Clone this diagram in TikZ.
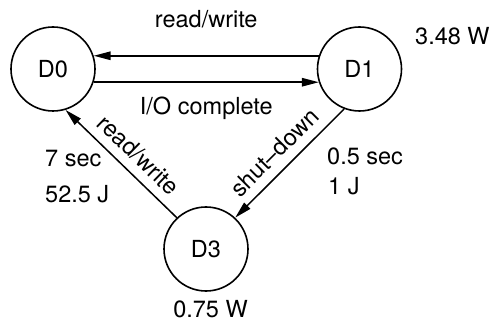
\documentclass[tikz,border=0pt]{standalone}
\usepackage{fontspec}
\setmainfont{TeX Gyre Heros}
\usetikzlibrary{arrows.meta}

\begin{document}
\begin{tikzpicture}[x=1pt, y=1pt,
    every node/.append style={font=\fontsize{23.5}{28}\selectfont},
    disk/.style={draw, circle, line width=1.6pt, minimum size=84pt, inner sep=0pt},
    trans/.style={line width=1.5pt, -{Triangle[length=17pt, width=8.5pt]}},
    lbl/.style={inner sep=0pt}]
    \useasboundingbox (0,0) rectangle (490,324);
    \node[disk] (d0) at (53,255) {D0};
    \node[disk] (d1) at (359.5,255) {D1};
    \node[disk] (d3) at (206,75) {D3};
    % transitions
    \draw[trans] (d1.162) -- node[lbl, above=27pt] {read/write} (d0.18);
    \draw[trans] (d0.-18) -- node[lbl, below=14pt] {I/O complete} (d1.198);
    \draw[trans] (d3.133) -- node[lbl, sloped, above=9pt, pos=.46] {read/write} (d0.-73);
    \draw[trans] (d1.249) -- node[lbl, sloped, above=9pt, pos=.52] {shut--down} (d3.47);
    % power and cost figures
    \node[lbl, anchor=base west] (p1) at (415,279) {3.48 W};
    \node[lbl, anchor=base] (p3) at (210.5,6) {0.75 W};
    \node[lbl, anchor=base west] (t30) at (45,157) {7 sec};
    \node[lbl, anchor=base west] (e30) at (45,121) {52.5 J};
    \node[lbl, anchor=base west] (t13) at (327,159) {0.5 sec};
    \node[lbl, anchor=base west] (e13) at (328,129) {1 J};
\end{tikzpicture}
\end{document}
